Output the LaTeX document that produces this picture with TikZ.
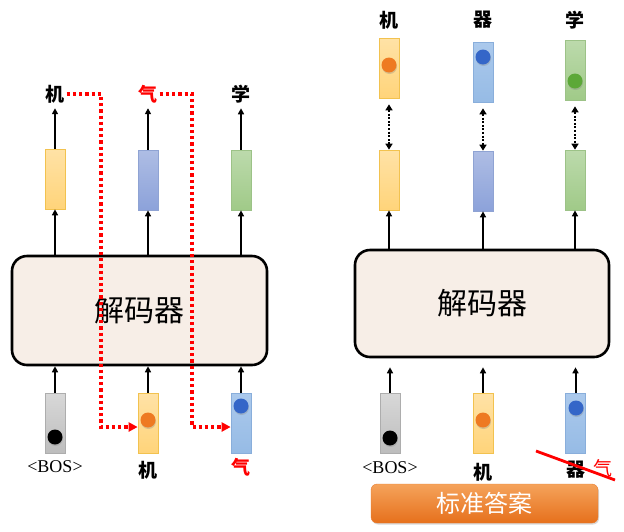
\documentclass[tikz,border=0pt]{standalone}
\usepackage{fontspec}
\setmainfont{Liberation Serif}
\newfontfamily\cjk{Noto Sans CJK SC}
\usetikzlibrary{positioning,arrows.meta,shadows}

\definecolor{yelTop}{HTML}{FFE2A6}
\definecolor{yelBot}{HTML}{FFD47A}
\definecolor{yelLine}{HTML}{F2C24F}
\definecolor{lavTop}{HTML}{AEBDE4}
\definecolor{lavBot}{HTML}{8CA2DA}
\definecolor{lavLine}{HTML}{8FA3D3}
\definecolor{grnTop}{HTML}{BCDAAC}
\definecolor{grnBot}{HTML}{A0CA88}
\definecolor{grnLine}{HTML}{9CC287}
\definecolor{bluTop}{HTML}{ABC9EC}
\definecolor{bluBot}{HTML}{96BBE5}
\definecolor{bluLine}{HTML}{89AEDB}
\definecolor{gryTop}{HTML}{D8D8D8}
\definecolor{gryBot}{HTML}{BDBDBD}
\definecolor{gryLine}{HTML}{ADADAD}
\definecolor{decFill}{HTML}{F7EEE7}
\definecolor{ansTop}{HTML}{F5A35B}
\definecolor{ansBot}{HTML}{E6701C}
\definecolor{dotOrange}{HTML}{EE7A22}
\definecolor{dotBlue}{HTML}{3466C8}
\definecolor{dotGreen}{HTML}{5CA838}

\begin{document}
\begin{tikzpicture}[x=1pt,y=-1pt,
  vec/.style 2 args={top color=#1, bottom color=#2, draw=#2!85!black,
    line width=0.7pt, minimum width=20pt, minimum height=60pt, inner sep=0pt},
  ybar/.style={vec={yelTop}{yelBot}, draw=yelLine},
  vbar/.style={vec={lavTop}{lavBot}, draw=lavLine},
  gbar/.style={vec={grnTop}{grnBot}, draw=grnLine},
  bbar/.style={vec={bluTop}{bluBot}, draw=bluLine},
  graybar/.style={vec={gryTop}{gryBot}, draw=gryLine},
  dot/.style={circle, fill=#1, minimum size=15pt, inner sep=0pt,
    drop shadow={opacity=0.3, shadow xshift=0.5pt, shadow yshift=-1.5pt}},
  word/.style={font=\cjk\bfseries\fontsize{19}{19}\selectfont, inner sep=1pt},
  latin/.style={font=\fontsize{18}{18}\selectfont, inner sep=1pt},
  decoder/.style={draw, line width=2.6pt, rounded corners=15pt, fill=decFill,
    minimum width=255pt, minimum height=109pt,
    font=\cjk\fontsize{30}{30}\selectfont},
  arr/.style={-{Triangle[length=6pt,width=6pt]}, line width=2pt},
  match/.style={{Triangle[length=6pt,width=7pt]}-{Triangle[length=6pt,width=7pt]},
    line width=2pt, dash pattern=on 2pt off 1.6pt},
  redpath/.style={-{Triangle[length=9pt,width=9pt]}, red, line width=3.2pt,
    dash pattern=on 3.2pt off 3pt},
  answer/.style={rounded corners=6pt, top color=ansTop, bottom color=ansBot,
    draw=ansBot!90!white, minimum width=227pt, minimum height=39pt,
    text=white, font=\cjk\fontsize{24}{24}\selectfont,
    drop shadow={opacity=0.3, shadow xshift=1pt, shadow yshift=-1.5pt}}]
  \useasboundingbox (0,0) rectangle (624,531);

  % left: decoding with its own outputs
  \node (lw1) [word] at (55,94) {机};
  \node (lw2) [word, text=red] at (148,94) {气};
  \node (lw3) [word] at (241,94) {学};
  \node (lo1) [ybar] at (55,179) {};
  \node (lo2) [vbar] at (148,180) {};
  \node (lo3) [gbar] at (241,180) {};
  \node (ldec) [decoder] at (139.5,310.5) {解码器};
  \node (li1) [graybar] at (55,423) {};
  \node (li2) [ybar] at (148,423) {};
  \node (li3) [bbar] at (241,423) {};
  \node (ld1) [dot=black] at (55,437) {};
  \node (ld2) [dot=dotOrange] at (148,420) {};
  \node (ld3) [dot=dotBlue] at (241,406) {};
  \node (lt1) [latin] at (55,467) {\textless{}BOS\textgreater};
  \node (lt2) [word] at (148,470) {机};
  \node (lt3) [word, text=red] at (241,467) {气};

  \draw [arr] (li1.north) -- (li1.north |- ldec.south);
  \draw [arr] (li2.north) -- (li2.north |- ldec.south);
  \draw [arr] (li3.north) -- (li3.north |- ldec.south);
  \draw [arr] (ldec.north -| lo1) -- (lo1.south);
  \draw [arr] (ldec.north -| lo2) -- (lo2.south);
  \draw [arr] (ldec.north -| lo3) -- (lo3.south);
  \draw [arr, shorten >=4pt] (lo1.north) -- (lw1.south);
  \draw [arr, shorten >=4pt] (lo2.north) -- (lw2.south);
  \draw [arr, shorten >=4pt] (lo3.north) -- (lw3.south);

  \coordinate (lr1) at (101,427);
  \coordinate (lr2) at (192,427);
  \draw [redpath, shorten <=1pt] (lw1.east) -| (lr1) -- (li2.west |- lr1);
  \draw [redpath, shorten <=1pt] (lw2.east) -| (lr2) -- (li3.west |- lr2);

  % right: decoding with the reference answer
  \node (rw1) [word] at (389,20) {机};
  \node (rw2) [word] at (483,20) {器};
  \node (rw3) [word] at (575,20) {学};
  \node (rp1) [ybar] at (389,68) {};
  \node (rp2) [bbar] at (483,72) {};
  \node (rp3) [gbar] at (575,70) {};
  \node (rd1) [dot=dotOrange] at (389,65) {};
  \node (rd2) [dot=dotBlue] at (483,57) {};
  \node (rd3) [dot=dotGreen] at (575,81) {};
  \node (ro1) [ybar] at (389,180) {};
  \node (ro2) [vbar] at (483,181) {};
  \node (ro3) [gbar] at (575,180) {};
  \node (rdec) [decoder, minimum width=254pt, minimum height=107pt] at (482,303.5) {解码器};
  \node (ri1) [graybar] at (390,423) {};
  \node (ri2) [ybar] at (483,423) {};
  \node (ri3) [bbar] at (575.5,423) {};
  \node (re1) [dot=black] at (390,438) {};
  \node (re2) [dot=dotOrange] at (483,420) {};
  \node (re3) [dot=dotBlue] at (576,408) {};
  \node (rt1) [latin] at (390,468) {\textless{}BOS\textgreater};
  \node (rt2) [word] at (483,472) {机};
  \node (rt3) [word] at (576,470) {器};
  \node (rx) [word, text=red, font=\cjk\fontsize{19}{19}\selectfont] at (603,468) {气};

  \draw [match, shorten <=6pt] (rp1.south) -- (ro1.north);
  \draw [match, shorten <=6pt] (rp2.south) -- (ro2.north);
  \draw [match, shorten <=6pt] (rp3.south) -- (ro3.north);
  \draw [arr] (rdec.north -| ro1) -- (ro1.south);
  \draw [arr] (rdec.north -| ro2) -- (ro2.south);
  \draw [arr] (rdec.north -| ro3) -- (ro3.south);
  \draw [arr, shorten >=9pt] (ri1.north) -- (ri1.north |- rdec.south);
  \draw [arr, shorten >=9pt] (ri2.north) -- (ri2.north |- rdec.south);
  \draw [arr, shorten >=9pt] (ri3.north) -- (ri3.north |- rdec.south);

  \coordinate (cross1) at (536,451);
  \coordinate (cross2) at (615,480);
  \draw [red, line width=2.8pt] (cross1) -- (cross2);

  \node (ans) [answer] at (484.5,503.5) {标准答案};
\end{tikzpicture}
\end{document}
